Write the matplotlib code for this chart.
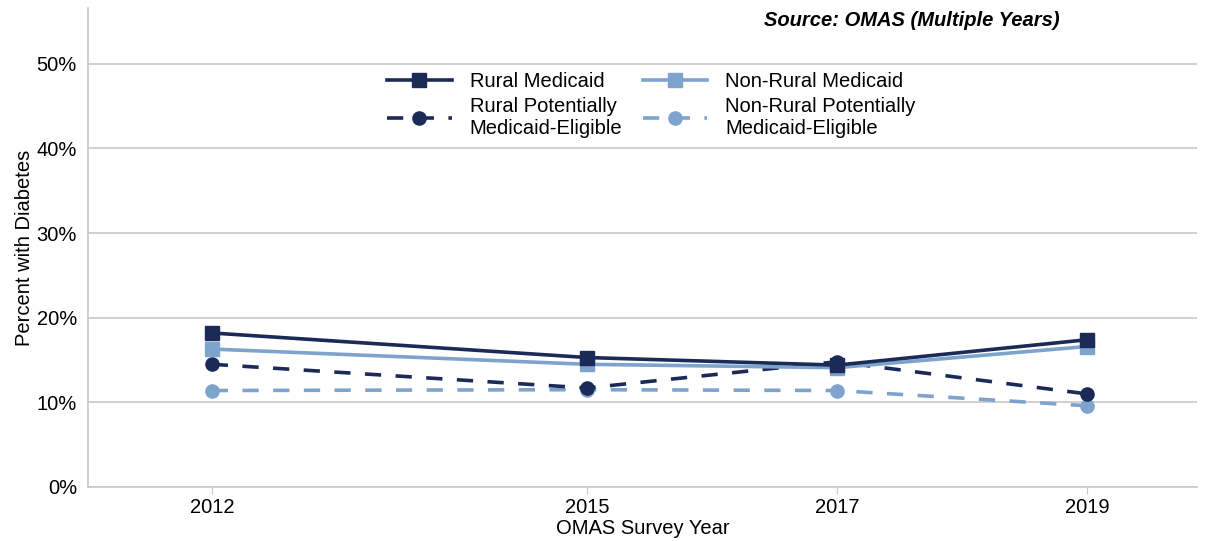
import matplotlib.pyplot as plt
from matplotlib.ticker import PercentFormatter

plt.rcParams['font.family'] = ['Liberation Sans', 'DejaVu Sans']

# data (percent with diabetes)
years = [2012, 2015, 2017, 2019]
rural_medicaid = [18.2, 15.3, 14.4, 17.4]
nonrural_medicaid = [16.3, 14.5, 14.1, 16.6]
rural_pme = [14.5, 11.7, 14.8, 11.0]
nonrural_pme = [11.4, 11.5, 11.4, 9.6]

dark = '#1b2a57'
light = '#7ea3cc'
fs = 14.5

fig = plt.figure(figsize=(12.1, 5.41), dpi=100)
ax = fig.add_axes([88 / 1210, 1 - 487 / 541, (1197 - 88) / 1210, (487 - 8) / 541])

dash = (0, (4.5, 4))
ax.plot(years, rural_medicaid, color=dark, lw=2.6, marker='s', ms=9.5, label='Rural Medicaid', zorder=4)
ax.plot(years, rural_pme, color=dark, lw=2.6, ls=dash, marker='o', ms=9.5,
        label='Rural Potentially\nMedicaid-Eligible', zorder=3)
ax.plot(years, nonrural_medicaid, color=light, lw=2.6, marker='s', ms=9.5, label='Non-Rural Medicaid', zorder=3)
ax.plot(years, nonrural_pme, color=light, lw=2.6, ls=dash, marker='o', ms=9.5,
        label='Non-Rural Potentially\nMedicaid-Eligible', zorder=2)

ax.set_xlim(2011.01, 2019.88)
ax.set_ylim(0, 56.6)
ax.set_xticks(years)
ax.set_yticks([0, 10, 20, 30, 40, 50])
ax.yaxis.set_major_formatter(PercentFormatter(decimals=0))
ax.grid(axis='y', color='#c8c8c8', lw=1.2)
ax.set_axisbelow(True)
for s in ['top', 'right']:
    ax.spines[s].set_visible(False)
for s in ['left', 'bottom']:
    ax.spines[s].set_color('#c8c8c8')
    ax.spines[s].set_linewidth(1.2)
ax.tick_params(axis='y', length=0, labelsize=fs, pad=8)
ax.tick_params(axis='x', length=5, color='#c8c8c8', labelsize=fs, pad=3)

ax.set_xlabel('OMAS Survey Year', fontsize=fs, labelpad=1)
ax.set_ylabel('Percent with Diabetes', fontsize=fs, labelpad=2)

ax.legend(ncol=2, loc='upper center', bbox_to_anchor=(0.508, 0.905), frameon=False,
          fontsize=fs, handlelength=3.2, columnspacing=1.0, labelspacing=0.3,
          handletextpad=0.9)

fig.text(1060 / 1210, 1 - 21 / 541, 'Source: OMAS (Multiple Years)', ha='right', va='center',
         fontsize=fs, fontweight='bold', fontstyle='italic')

fig.savefig('out.png', dpi=100)
